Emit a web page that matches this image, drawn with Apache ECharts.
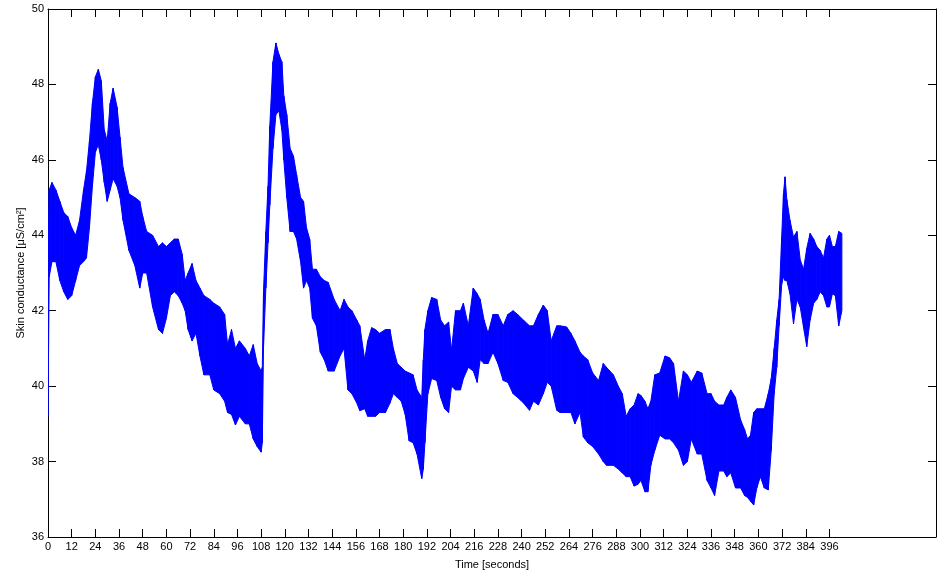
<!DOCTYPE html>
<html>
<head>
<meta charset="utf-8">
<script src="https://cdn.jsdelivr.net/npm/echarts@6/dist/echarts.min.js"></script>
<style>
html,body{margin:0;padding:0;background:#fff;}
#chart{width:937px;height:576px;}
</style>
</head>
<body>
<div id="chart"></div>
<script>
// Time samples (seconds) and lower / upper envelope of the signal (µS/cm²)
const timeSec = [0,0.6,2,4,6,8,10,12,14,16,18,19.5,21,22.5,24,25.5,27,28.5,30,31.5,33,35,36.5,38,41,44,46.5,48,50,53,56,58,60,62,64,66,68,69.5,71,73,75,77,79,82,84,87,89.5,91,93,95,97,100,102,104,106,108,108.6,109.2,110.4,111.5,112.4,114,115.5,117,118.5,119.5,121,122.7,124.4,126,128,129.5,131,132.6,134,136,138,140,142,145,148,150,152,154,156.5,158,160.5,162,164,166,168,171,173.3,175,177,179,181,183,185,187,189.4,190.2,191,192.5,194.4,197,199,201,203,204.5,206.5,209,210.5,213,215.5,217.5,219,221,223,225.5,228,230.7,233,235.7,238,241,244,246,248.5,251,253,255,257.8,259.5,262.8,265,267,269.6,271.3,273.5,276,279,281.4,283,286.5,289,291,293,295,297,299,300.5,302.5,304,305.5,307.5,310,312.7,315,317,319.5,322,324,326,329,331.3,334,336,337.8,340,342.4,344,346,348.4,351,353,354.5,356,357.6,359.2,361,363,365,366.5,368,369.3,370.5,371.8,372.7,373.5,374.4,376,377.8,379.5,381.2,382.9,384.5,386.2,388,389.6,391.3,393,394.7,396,397.5,399,400.7,402.3];
const lowerSC = [39.2,42.9,43.3,43.3,42.8,42.5,42.3,42.4,42.8,43.2,43.3,43.4,44.2,45.3,46.2,46.4,46.0,45.4,44.9,45.2,45.5,45.3,45.0,44.4,43.6,43.2,42.6,43.0,43.0,42.1,41.5,41.4,41.8,42.4,42.5,42.4,42.2,42.0,41.5,41.2,41.4,40.8,40.3,40.3,39.9,39.8,39.6,39.3,39.25,38.97,39.2,39.0,39.0,38.6,38.4,38.25,38.5,41.0,42.6,43.8,44.8,46.3,47.2,47.3,46.8,46.0,45.0,44.1,44.1,43.9,43.3,42.6,42.8,42.6,41.8,41.6,40.9,40.7,40.4,40.4,40.8,41.0,39.9,39.8,39.55,39.35,39.4,39.2,39.2,39.2,39.3,39.3,39.55,39.8,39.7,39.6,39.25,38.55,38.5,38.2,37.55,37.8,38.5,39.8,40.2,40.15,39.7,39.4,39.3,40.0,39.9,39.9,40.2,40.5,40.4,40.1,40.7,40.6,40.6,40.9,40.6,40.15,40.1,39.8,39.7,39.55,39.36,39.6,39.5,39.8,40.1,40.0,39.36,39.3,39.3,39.3,39.0,39.3,38.65,38.5,38.4,38.2,38.0,37.9,37.9,37.8,37.7,37.6,37.6,37.35,37.4,37.5,37.2,37.2,37.9,38.3,38.7,38.6,38.6,38.5,38.3,37.9,38.0,38.6,38.2,38.2,37.5,37.3,37.1,37.75,37.75,37.6,37.7,37.3,37.3,37.1,37.05,36.95,36.85,37.3,37.6,37.3,37.25,38.3,39.8,40.5,41.6,42.7,42.9,42.8,42.8,42.45,41.65,42.3,42.1,41.55,41.05,41.75,42.2,42.3,42.5,42.4,42.1,42.1,42.45,42.4,41.6,42.0];
const upperSC = [43.2,45.2,45.4,45.2,44.9,44.6,44.5,44.2,44.0,44.4,45.2,45.7,46.5,47.5,48.2,48.4,48.1,46.8,46.5,47.5,47.9,47.4,46.6,45.8,45.1,45.0,44.9,44.5,44.1,44.0,43.7,43.8,43.7,43.8,43.9,43.9,43.5,42.8,43.0,43.25,42.8,42.6,42.4,42.3,42.2,42.1,41.9,41.1,41.5,41.0,41.2,41.0,40.8,41.1,40.6,40.4,40.5,42.5,44.1,45.3,46.9,48.6,49.1,48.8,48.6,47.7,47.2,46.3,46.1,45.6,45.0,44.9,44.2,43.9,43.1,43.1,42.9,42.8,42.75,42.3,42.0,42.3,42.1,42.0,41.75,41.6,40.7,41.2,41.55,41.5,41.4,41.5,41.5,41.0,40.6,40.5,40.4,40.35,40.3,39.9,39.7,40.7,41.5,42.0,42.35,42.3,41.75,41.6,41.7,40.95,42.0,42.0,42.2,41.6,42.6,42.45,42.3,41.75,41.4,41.9,41.9,41.6,41.9,42.0,41.9,41.75,41.6,41.6,41.9,42.15,42.0,41.2,41.6,41.6,41.57,41.4,41.2,40.9,40.8,40.7,40.35,40.15,40.6,40.5,40.3,40.0,39.8,39.2,39.4,39.5,39.8,39.75,39.6,39.4,39.6,40.3,40.35,40.8,40.75,40.6,39.6,40.4,40.3,40.1,40.4,40.35,39.8,39.8,39.6,39.5,39.5,39.7,39.9,39.7,39.1,38.85,38.6,38.7,39.3,39.4,39.4,39.4,39.8,40.2,41.0,41.75,42.3,43.95,45.1,45.55,44.95,44.4,43.95,44.1,43.35,43.1,43.65,44.05,43.9,43.7,43.6,43.4,43.9,44.0,43.7,43.7,44.1,44.05];
// Axis ticks
const xTicks = [0,12,24,36,48,60,72,84,96,108,120,132,144,156,168,180,192,204,216,228,240,252,264,276,288,300,312,324,336,348,360,372,384,396];
const yTicks = [36,38,40,42,44,46,48,50];

const FONT = '"Liberation Sans", Arial, Helvetica, sans-serif';
const BLUE = '#0000ff';

// each segment row: [t0, lo0, hi0, t1, lo1, hi1]
const n = Math.min(timeSec.length, lowerSC.length, upperSC.length);
const segData = [];
for (let i = 0; i < n - 1; i++) {
  segData.push([timeSec[i], lowerSC[i], upperSC[i], timeSec[i + 1], lowerSC[i + 1], upperSC[i + 1]]);
}

function renderSeg(params, api) {
  const p1 = api.coord([api.value(0), api.value(1)]);
  const p2 = api.coord([api.value(0), api.value(2)]);
  const p3 = api.coord([api.value(3), api.value(5)]);
  const p4 = api.coord([api.value(3), api.value(4)]);
  return {
    type: 'polygon',
    shape: {points: [p1, p2, p3, p4]},
    style: {fill: BLUE, stroke: BLUE, lineWidth: 1}
  };
}

const chart = echarts.init(document.getElementById('chart'), null, {renderer: 'canvas'});

const baseX = {
  type: 'value', min: 0, max: 450,
  axisLine: {show: true, onZero: false, lineStyle: {color: '#000', width: 1}},
  axisTick: {show: true, inside: true, length: 8, customValues: xTicks, lineStyle: {color: '#000', width: 1}},
  splitLine: {show: false}
};
const baseY = {
  type: 'value', min: 36, max: 50,
  axisLine: {show: true, onZero: false, lineStyle: {color: '#000', width: 1}},
  axisTick: {show: true, inside: true, length: 8, customValues: yTicks, lineStyle: {color: '#000', width: 1}},
  splitLine: {show: false}
};

chart.setOption({
  animation: false,
  backgroundColor: '#fff',
  grid: {left: 48, right: 1, top: 9, bottom: 39, containLabel: false},
  xAxis: [
    Object.assign({}, baseX, {
      position: 'bottom',
      name: 'Time [seconds]', nameLocation: 'middle', nameGap: 22, nameMoveOverlap: false,
      nameTextStyle: {fontFamily: FONT, fontSize: 11, color: '#000'},
      axisLabel: {show: true, customValues: xTicks, margin: 4, fontFamily: FONT, fontSize: 11, color: '#000'}
    }),
    Object.assign({}, baseX, {position: 'top', axisLabel: {show: false}})
  ],
  yAxis: [
    Object.assign({}, baseY, {
      position: 'left',
      name: 'Skin conductance [\u03bcS/cm\u00b2]', nameLocation: 'middle', nameGap: 22, nameMoveOverlap: false,
      nameTextStyle: {fontFamily: FONT, fontSize: 11, color: '#000'},
      axisLabel: {show: true, customValues: yTicks, margin: 4, fontFamily: FONT, fontSize: 11, color: '#000'}
    }),
    Object.assign({}, baseY, {position: 'right', axisLabel: {show: false}})
  ],
  series: [
    {
      type: 'custom', xAxisIndex: 0, yAxisIndex: 0,
      renderItem: renderSeg,
      encode: {x: [0, 3], y: [1, 2, 4, 5]},
      data: segData,
      clip: true
    }
  ]
});
</script>
</body>
</html>
